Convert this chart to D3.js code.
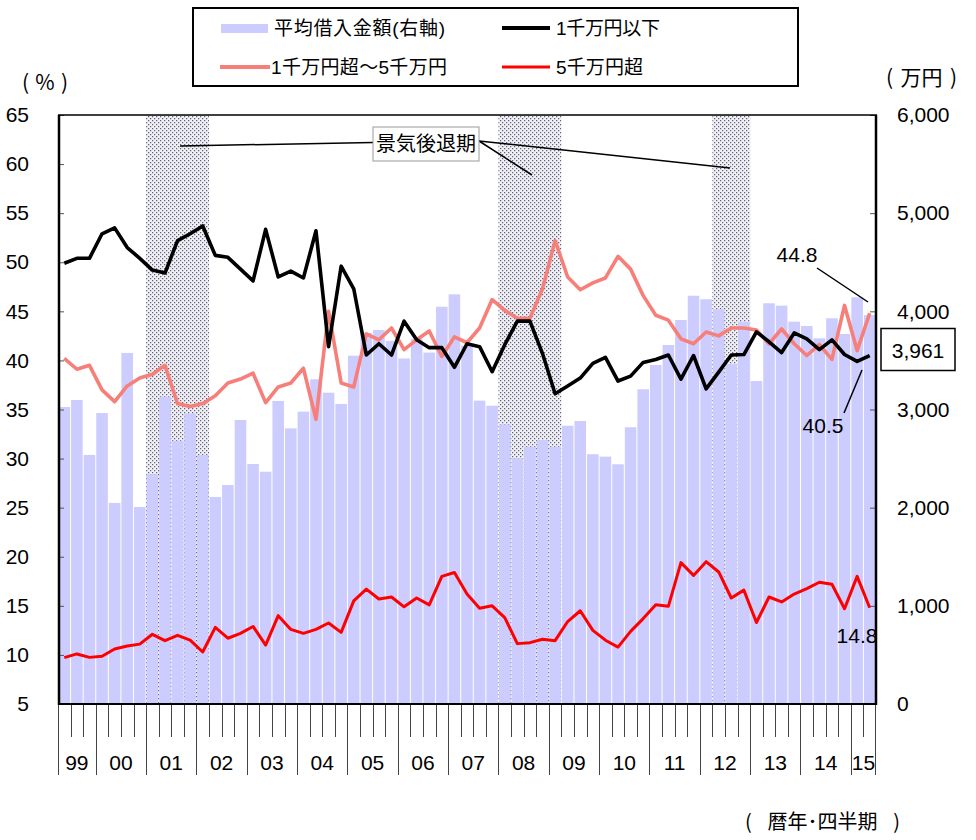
<!DOCTYPE html>
<html><head><meta charset="utf-8">
<script src="https://cdn.jsdelivr.net/npm/d3@7"></script>
<style>
html,body{margin:0;padding:0;background:#fff;}
svg{display:block;font-family:"Liberation Sans","Noto Sans CJK JP",sans-serif;}
</style></head>
<body><svg id="chart" width="976" height="840"></svg>
<script>
// ---- data ----
const yearLabels = ["99","00","01","02","03","04","05","06","07","08","09","10","11","12","13","14","15"];
const quartersPerYear = [3,4,4,4,4,4,4,4,4,4,4,4,4,4,4,4,2];
const firstQuarter = [2,1,1,1,1,1,1,1,1,1,1,1,1,1,1,1,1];
const quarters = [];
yearLabels.forEach((y,k)=>{ for(let q=0;q<quartersPerYear[k];q++) quarters.push(y+"Q"+(firstQuarter[k]+q)); });

// 平均借入金額(右軸) 万円
const avgLoan = [3025,3097,2537,2964,2048,3576,2007,2340,3131,2682,2961,2537,2109,2231,2893,2445,2366,3087,2808,2978,3308,3171,3056,3548,3780,3810,3700,3520,3720,3580,4047,4173,3650,3090,3039,2849,2503,2621,2689,2621,2835,2883,2544,2520,2442,2819,3206,3453,3657,3912,4159,4123,4021,3464,3895,3290,4082,4058,3895,3851,3725,3929,3769,4143,3961];
// 1千万円以下 %
const under10m = [49.9,50.4,50.4,52.9,53.5,51.5,50.4,49.2,48.9,52.2,52.9,53.7,50.7,50.5,49.3,48.1,53.35,48.5,49.1,48.4,53.2,41.4,49.6,47.3,40.55,41.7,40.55,44.0,42.1,41.3,41.3,39.3,41.7,41.4,38.85,41.6,44.0,44.0,40.7,36.6,37.4,38.2,39.7,40.3,37.9,38.4,39.8,40.1,40.55,38.1,40.5,37.1,38.8,40.55,40.6,42.9,41.9,40.8,42.8,42.2,41.1,42.1,40.6,39.9,40.5];
// 1千万円超～5千万円 %
const mid10to50m = [40.2,39.1,39.5,37.0,35.8,37.4,38.2,38.6,39.5,35.6,35.3,35.6,36.4,37.7,38.1,38.7,35.7,37.3,37.7,39.2,34.0,45.0,37.7,37.3,42.7,42.1,43.3,41.1,42.1,43.0,40.4,42.4,41.8,43.3,46.2,45.1,44.3,44.3,47.3,52.2,48.5,47.2,47.9,48.4,50.6,49.3,46.6,44.6,44.1,42.2,41.7,42.9,42.5,43.3,43.3,43.1,41.7,43.2,41.7,40.5,41.6,40.1,45.6,41.0,44.8];
// 5千万円超 %
const over50m = [9.72,10.1,9.75,9.86,10.6,10.9,11.1,12.1,11.45,12.0,11.5,10.3,12.8,11.7,12.2,12.9,11.0,14.0,12.6,12.2,12.6,13.25,12.3,15.5,16.7,15.7,15.9,14.9,15.8,15.1,18.0,18.4,16.2,14.75,15.0,13.8,11.15,11.25,11.6,11.45,13.4,14.5,12.5,11.5,10.8,12.4,13.7,15.1,14.95,19.4,18.1,19.5,18.45,15.8,16.6,13.3,15.9,15.4,16.2,16.75,17.4,17.2,14.7,18.0,14.8];
const recessions = [["01Q1","02Q1"],["08Q1","09Q1"],["12Q2","12Q4"]];
const leftTicks = [5,10,15,20,25,30,35,40,45,50,55,60,65];
const rightTicks = [0,1000,2000,3000,4000,5000,6000];
const seriesNames = ["平均借入金額(右軸)","1千万円以下","1千万円超～5千万円","5千万円超"];

// ---- layout ----
const L=58, R=876, T=115, B=704;
const svg = d3.select("#chart");
const x = d3.scaleBand().domain(quarters).range([L,R]).paddingInner(0.08).paddingOuter(0.04);
const yL = d3.scaleLinear().domain([5,65]).range([B,T]);
const yR = d3.scaleLinear().domain([0,6000]).range([B,T]);
const half = (x.step()-x.bandwidth())/2;
const bStart = q => x(q)-half;
const bEnd = q => x(q)+x.bandwidth()+half;
const cx = q => x(q)+x.bandwidth()/2;

const defs = svg.append("defs");
const pat = defs.append("pattern").attr("id","dots").attr("width",4).attr("height",4).attr("patternUnits","userSpaceOnUse");
pat.append("rect").attr("width",4).attr("height",4).attr("fill","#f0f0f5");
pat.append("rect").attr("x",0).attr("y",0).attr("width",1.25).attr("height",1.25).attr("fill","#62627c");
pat.append("rect").attr("x",2).attr("y",2).attr("width",1.25).attr("height",1.25).attr("fill","#62627c");

// recession shading
svg.append("g").selectAll("rect").data(recessions).join("rect")
  .attr("x",d=>bStart(d[0])).attr("width",d=>bEnd(d[1])-bStart(d[0]))
  .attr("y",T).attr("height",B-T).attr("fill","url(#dots)");

// bars
svg.append("g").selectAll("rect").data(quarters).join("rect")
  .attr("x",q=>x(q)).attr("width",x.bandwidth())
  .attr("y",(q,i)=>yR(avgLoan[i])).attr("height",(q,i)=>B-yR(avgLoan[i]))
  .attr("fill","#ccccff");

// recession label + leaders
const lead = svg.append("g").attr("stroke","#000").attr("stroke-width",1.5);
lead.append("line").attr("x1",373).attr("y1",142.5).attr("x2",180).attr("y2",146);
lead.append("line").attr("x1",479).attr("y1",141).attr("x2",532).attr("y2",175);
lead.append("line").attr("x1",479).attr("y1",141).attr("x2",730).attr("y2",168);
svg.append("rect").attr("x",373).attr("y",127).attr("width",106).attr("height",34)
  .attr("fill","#fff").attr("stroke","#999").attr("stroke-width",1);
svg.append("text").attr("x",426).attr("y",144).attr("dy","0.36em").attr("text-anchor","middle")
  .attr("font-size",20).attr("font-family","Noto Sans CJK JP").text("景気後退期");

// lines
const mk = arr => d3.line().x((q,i)=>cx(q)).y((q,i)=>yL(arr[i]));
svg.append("path").attr("d",mk(mid10to50m)(quarters)).attr("fill","none").attr("stroke","#f77f7a").attr("stroke-width",3.6).attr("stroke-linejoin","round");
svg.append("path").attr("d",mk(under10m)(quarters)).attr("fill","none").attr("stroke","#000").attr("stroke-width",3.6).attr("stroke-linejoin","round");
svg.append("path").attr("d",mk(over50m)(quarters)).attr("fill","none").attr("stroke","#ff0000").attr("stroke-width",3).attr("stroke-linejoin","round");

// axes
const gl = svg.append("g").attr("transform",`translate(59,0)`)
  .call(d3.axisLeft(yL).tickValues(leftTicks).tickSizeInner(-5).tickSizeOuter(0).tickPadding(30));
const gr = svg.append("g").attr("transform",`translate(876,0)`)
  .call(d3.axisRight(yR).tickValues(rightTicks).tickFormat(d3.format(",")).tickSizeInner(-6).tickSizeOuter(0).tickPadding(21));
[gl,gr].forEach(g=>{
  g.select(".domain").remove();
  g.selectAll(".tick line").attr("stroke","#555").attr("stroke-width",1);
  g.selectAll(".tick text").attr("font-size",21).attr("fill","#000").attr("font-family","Liberation Sans");
});

// frame
const fr = svg.append("g").attr("stroke","#000");
fr.append("line").attr("x1",L).attr("x2",R+1).attr("y1",T).attr("y2",T).attr("stroke-width",1.5);
fr.append("line").attr("x1",59).attr("x2",59).attr("y1",T).attr("y2",B+1).attr("stroke-width",2.5);
fr.append("line").attr("x1",876).attr("x2",876).attr("y1",T).attr("y2",B+1).attr("stroke-width",2.5);
fr.append("line").attr("x1",58).attr("x2",877).attr("y1",B).attr("y2",B).attr("stroke-width",2);

// x ticks
const xt = svg.append("g").attr("stroke","#444").attr("stroke-width",1);
const isYearStart = quarters.map((q,i)=> i===0 || q.slice(0,2)!==quarters[i-1].slice(0,2));
quarters.forEach((q,i)=>{
  const xx = Math.round(bStart(q))+0.5;
  xt.append("line").attr("x1",xx).attr("x2",xx).attr("y1",B+1).attr("y2",isYearStart[i]?775:737);
});
const xEnd = Math.round(bEnd(quarters[quarters.length-1]))-0.5;
xt.append("line").attr("x1",xEnd).attr("x2",xEnd).attr("y1",B+1).attr("y2",775);
yearLabels.forEach(y=>{
  const qs = quarters.filter(q=>q.slice(0,2)===y);
  const xm = (bStart(qs[0])+bEnd(qs[qs.length-1]))/2;
  svg.append("text").attr("x",xm).attr("y",762).attr("dy","0.36em").attr("text-anchor","middle")
    .attr("font-size",21).text(y);
});

// axis titles (parentheses placed separately to match the wide spacing)
function paren(x0, x1, y, inner, size){
  const g = svg.append("g").attr("font-family","Noto Sans CJK JP").attr("font-size",size);
  g.append("text").attr("x",x0).attr("y",y).attr("dy","0.36em").attr("text-anchor","start").text("(");
  g.append("text").attr("x",(x0+x1)/2).attr("y",y).attr("dy","0.36em").attr("text-anchor","middle").text(inner);
  g.append("text").attr("x",x1).attr("y",y).attr("dy","0.36em").attr("text-anchor","end").text(")");
}
paren(22, 68, 82, "%", 21);
paren(886, 957, 77, "万円", 21);
paren(745, 900, 822, "暦年･四半期", 20);

// legend
const lg = svg.append("g");
lg.append("rect").attr("x",193).attr("y",8).attr("width",605).attr("height",78).attr("fill","#fff").attr("stroke","#000").attr("stroke-width",2);
lg.append("rect").attr("x",221).attr("y",24).attr("width",47).attr("height",9).attr("fill","#ccccff");
lg.append("line").attr("x1",502).attr("x2",550).attr("y1",28).attr("y2",28).attr("stroke","#000").attr("stroke-width",4);
lg.append("line").attr("x1",220).attr("x2",270).attr("y1",67).attr("y2",67).attr("stroke","#f77f7a").attr("stroke-width",4);
lg.append("line").attr("x1",502).attr("x2",550).attr("y1",67).attr("y2",67).attr("stroke","#ff0000").attr("stroke-width",3);
const lt = [[274,28,seriesNames[0],171],[556,28,seriesNames[1],104],[271,67,seriesNames[2],176],[556,67,seriesNames[3],87]];
lt.forEach(d=>lg.append("text").attr("x",d[0]).attr("y",d[1]).attr("dy","0.36em").attr("font-size",19)
  .attr("textLength",d[3]).attr("lengthAdjust","spacing").text(d[2]));

// annotations
const an = svg.append("g").attr("stroke","#000").attr("stroke-width",1.5);
an.append("line").attr("x1",817).attr("y1",268).attr("x2",868).attr("y2",302);
an.append("line").attr("x1",844).attr("y1",413).attr("x2",862).attr("y2",370);
svg.append("text").attr("x",797).attr("y",254).attr("dy","0.36em").attr("text-anchor","middle").attr("font-size",21).text(d3.format(".1f")(mid10to50m[mid10to50m.length-1]));
svg.append("text").attr("x",823).attr("y",425).attr("dy","0.36em").attr("text-anchor","middle").attr("font-size",21).text(d3.format(".1f")(under10m[under10m.length-1]));
svg.append("text").attr("x",857).attr("y",635).attr("dy","0.36em").attr("text-anchor","middle").attr("font-size",21).text(d3.format(".1f")(over50m[over50m.length-1]));
svg.append("rect").attr("x",881).attr("y",328.5).attr("width",74).attr("height",42).attr("fill","#fff").attr("stroke","#000").attr("stroke-width",1.5);
svg.append("text").attr("x",918).attr("y",350).attr("dy","0.36em").attr("text-anchor","middle").attr("font-size",21).text(d3.format(",")(avgLoan[avgLoan.length-1]));
</script></body></html>
